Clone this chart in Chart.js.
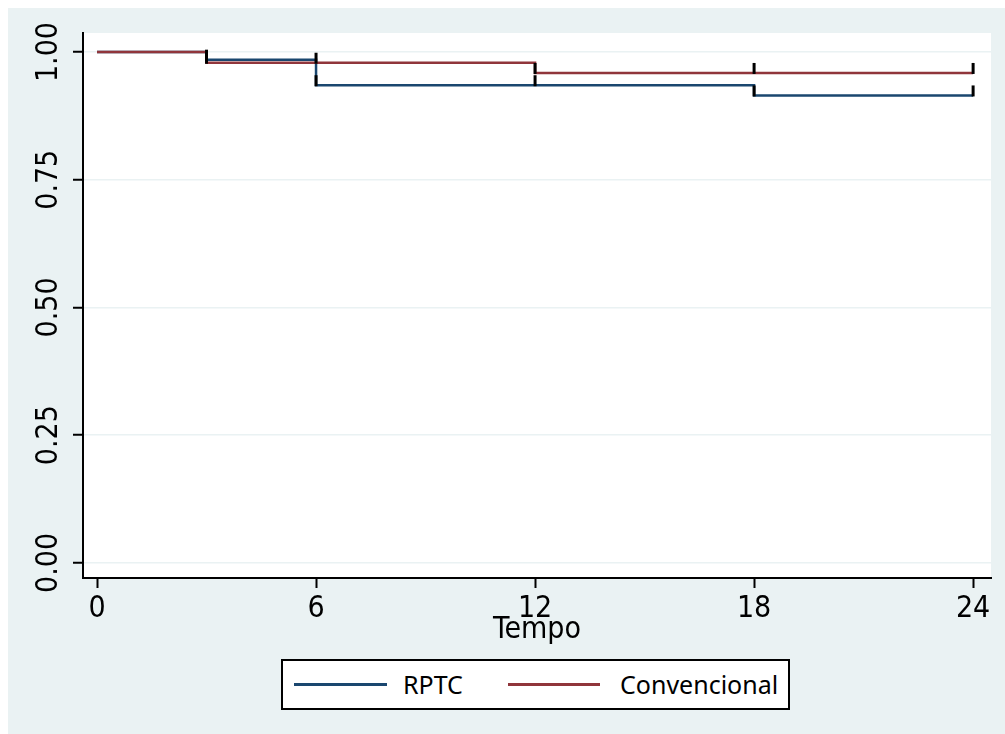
<!DOCTYPE html>
<html>
<head>
<meta charset="utf-8">
<script src="https://cdn.jsdelivr.net/npm/chart.js@4.4.1/dist/chart.umd.min.js"></script>
<style>
  html, body { margin: 0; padding: 0; background: #fff; }
  #painel { position: absolute; left: 8px; top: 8px; width: 997px; height: 726px; background: #eaf2f3; overflow: hidden; }
  #painel canvas { position: absolute; left: 0; top: 0; }
  #legenda { position: absolute; left: 273px; top: 651px; width: 505px; height: 47px; border: 2px solid #000; background: #fff;
             font-family: "Noto Sans", sans-serif; font-size: 25px; color: #000; }
  #legenda .amostra { position: absolute; top: 22px; height: 3px; }
  #legenda .texto { position: absolute; top: 6px; line-height: 34px; white-space: nowrap; }
</style>
</head>
<body>
<div id="painel">
  <canvas id="chartSobrevida" width="997" height="726"></canvas>
  <div id="legenda">
    <div class="amostra" style="left:11px; width:93px; background:#1a476f"></div>
    <div class="texto" style="left:120px">RPTC</div>
    <div class="amostra" style="left:225px; width:92px; background:#90353b"></div>
    <div class="texto" style="left:337px">Convencional</div>
  </div>
</div>
<script>
// marcas dos eixos
var ticksTempo = [0, 6, 12, 18, 24];
var ticksSobrevida = [0, 0.25, 0.5, 0.75, 1];

// curvas de Kaplan-Meier (tempo em meses)
var rptcTempo = [0, 3, 6, 18, 24];
var rptcSobrevida = [1, 0.985, 0.935, 0.915, 0.915];
var convTempo = [0, 3, 12, 24];
var convSobrevida = [1, 0.979, 0.959, 0.959];

// tempos com observações censuradas
var rptcCensura = [3, 6, 12, 18, 24];
var convCensura = [3, 6, 12, 18, 24];

// "condensed" entra no lugar do peso para virar font-stretch na string da fonte
var FONTE_EIXO = { family: "'Liberation Sans Narrow', 'DejaVu Sans'", weight: "condensed", size: 30 };

function pontos(tempos, valores) {
  return tempos.map(function (t, i) {
    return { x: t, y: valores[i] };
  });
}

// valor da curva em degrau no tempo t
function nivel(tempos, valores, t) {
  var v = valores[0];
  for (var i = 0; i < tempos.length; i++) {
    if (tempos[i] <= t) v = valores[i];
  }
  return v;
}

var marcasCensura = {
  id: "marcasCensura",
  afterDatasetsDraw: function (chart) {
    var ctx = chart.ctx;
    var sx = chart.scales.x;
    var sy = chart.scales.y;
    var grupos = [
      [rptcTempo, rptcSobrevida, rptcCensura],
      [convTempo, convSobrevida, convCensura]
    ];
    ctx.save();
    ctx.strokeStyle = "#000";
    ctx.lineWidth = 3;
    grupos.forEach(function (g) {
      g[2].forEach(function (t) {
        var px = sx.getPixelForValue(t);
        var py = sy.getPixelForValue(nivel(g[0], g[1], t));
        ctx.beginPath();
        ctx.moveTo(px, py + 1);
        ctx.lineTo(px, py - 10);
        ctx.stroke();
      });
    });
    ctx.restore();
  }
};

var fundoGrafico = {
  id: "fundoGrafico",
  beforeDraw: function (chart) {
    var a = chart.chartArea;
    var ctx = chart.ctx;
    ctx.save();
    ctx.fillStyle = "#fff";
    ctx.fillRect(a.left, a.top, a.right - a.left, a.bottom - a.top);
    ctx.restore();
  }
};

document.addEventListener("DOMContentLoaded", function () {
  var ctx = document.getElementById("chartSobrevida").getContext("2d");

  new Chart(ctx, {
    type: "line",
    data: {
      datasets: [
        {
          label: "Convencional",
          data: pontos(convTempo, convSobrevida),
          borderColor: "#90353b",
          borderWidth: 2.5,
          stepped: "before",
          pointRadius: 0,
          fill: false,
          order: 0
        },
        {
          label: "RPTC",
          data: pontos(rptcTempo, rptcSobrevida),
          borderColor: "#1a476f",
          borderWidth: 2.5,
          stepped: "before",
          pointRadius: 0,
          fill: false,
          order: 1
        }
      ]
    },
    options: {
      responsive: false,
      animation: false,
      layout: { padding: { left: 0, top: 25, right: 14, bottom: 86 } },
      plugins: {
        legend: { display: false },
        tooltip: { enabled: false }
      },
      scales: {
        x: {
          type: "linear",
          min: -0.384,
          max: 24.49,
          afterBuildTicks: function (scale) {
            scale.ticks = ticksTempo.map(function (v) { return { value: v }; });
          },
          afterFit: function (scale) { scale.height = 70; },
          border: { color: "#000", width: 2 },
          grid: { drawOnChartArea: false, tickColor: "#000", tickLength: 10, tickWidth: 2 },
          ticks: {
            color: "#000",
            padding: 3,
            autoSkip: false,
            maxRotation: 0,
            minRotation: 0,
            font: FONTE_EIXO
          },
          title: {
            display: true,
            text: "Tempo",
            color: "#000",
            padding: 0,
            font: FONTE_EIXO
          }
        },
        y: {
          min: -0.0294,
          max: 1.0372,
          afterBuildTicks: function (scale) {
            scale.ticks = ticksSobrevida.map(function (v) { return { value: v }; });
          },
          afterFit: function (scale) { scale.width = 75; },
          border: { color: "#000", width: 2 },
          grid: { color: "#eaf2f3", lineWidth: 1.5, tickColor: "#000", tickLength: 10, tickWidth: 2 },
          ticks: {
            color: "#000",
            padding: -6,
            autoSkip: false,
            minRotation: 90,
            maxRotation: 90,
            crossAlign: "center",
            font: FONTE_EIXO,
            callback: function (v) { return v.toFixed(2); }
          }
        }
      }
    },
    plugins: [fundoGrafico, marcasCensura]
  });
});
</script>
</body>
</html>
